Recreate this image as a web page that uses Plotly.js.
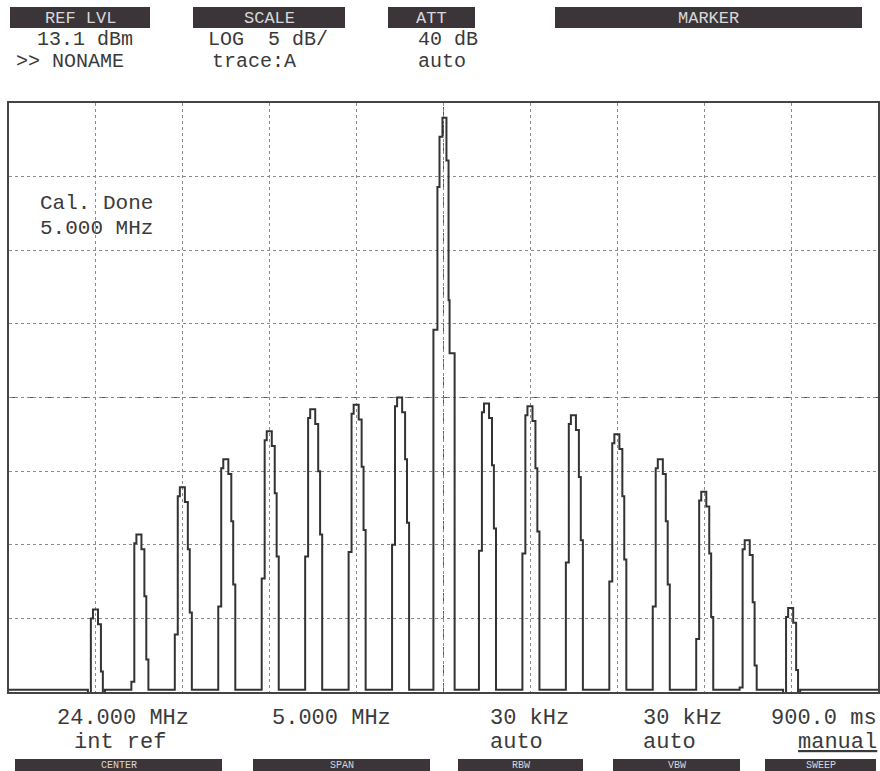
<!DOCTYPE html>
<html>
<head>
<meta charset="utf-8">
<script src="https://cdn.plot.ly/plotly-3.0.1.min.js"></script>
<style>
html,body{margin:0;padding:0;background:#fff;}
#chart{width:880px;height:771px;}
</style>
</head>
<body>
<div id="chart"></div>
<script>
// ---- Data ----
const centerMHz = 24.0;
const spanMHz = 5.0;
const refLevelDbm = 13.1;
const dbPerDiv = 5;
const peakFreqsMHz = [22.0, 22.25, 22.5, 22.75, 23.0, 23.25, 23.5, 23.75, 24.0,
                      24.25, 24.5, 24.75, 25.0, 25.25, 25.5, 25.75, 26.0];
const peakLevelsDbm = [-21.3, -16.2, -13.0, -11.1, -9.2, -7.7, -7.4, -6.9, 12.1,
                       -7.3, -7.5, -8.1, -9.4, -11.1, -13.3, -16.6, -21.2];
// stepped shape of each side line (offset kHz, level relative to peak dB)
const sideOffsetsKHz = [-46, -29, -17, 12, 29, 40, 52];
const sideRelDb      = [-10, -0.6, 0, -1, -4.2, -8.5, null];
// stepped shape of the carrier line
const carrierOffsetsKHz = [-58, -35, -23, -6, 17, 29, 35, 52, 64];
const carrierRelDb      = [-14.4, -4.7, -1.3, 0, -2.9, -12.4, -16.0, -16.0, null];
const floorDbm = -26.75;

// ---- Build the trace from the arrays ----
const xs = [centerMHz - spanMHz / 2];
const ys = [floorDbm];
peakFreqsMHz.forEach((f, i) => {
  const isCarrier = Math.abs(f - centerMHz) < 1e-9;
  const offs = isCarrier ? carrierOffsetsKHz : sideOffsetsKHz;
  const rel = isCarrier ? carrierRelDb : sideRelDb;
  offs.forEach((o, j) => {
    xs.push(f + o / 1000);
    ys.push(rel[j] === null ? floorDbm : peakLevelsDbm[i] + rel[j]);
  });
});
xs.push(centerMHz + spanMHz / 2);
ys.push(floorDbm);

const yBottom = refLevelDbm - 8 * dbPerDiv;

// ---- Layout helpers (pixel -> paper) ----
const L = 9, R = 2, T = 103, B = 79, W = 880, H = 771;
const PW = W - L - R, PH = H - T - B;
const px = v => (v - L) / PW;
const py = v => (H - B - v) / PH;

const mono = 'Liberation Mono, DejaVu Sans Mono, monospace';
const textColor = '#3a3a3a';

function lbl(text, x, y, size, anchor) {
  return {text: text, xref: 'paper', yref: 'paper', x: px(x), y: py(y),
          xanchor: anchor || 'left', yanchor: 'middle', showarrow: false,
          font: {family: mono, size: size || 22, color: textColor}};
}
function bar(x0, x1, y0, y1) {
  return {type: 'rect', xref: 'paper', yref: 'paper', x0: px(x0), x1: px(x1),
          y0: py(y1), y1: py(y0), fillcolor: '#3b3539', line: {width: 0}, layer: 'above'};
}
function barText(text, x0, x1, yc, size) {
  return {text: text, xref: 'paper', yref: 'paper', x: px((x0 + x1) / 2), y: py(yc),
          xanchor: 'center', yanchor: 'middle', showarrow: false,
          font: {family: mono, size: size || 17, color: '#d8d8d8'}};
}

const shapes = [
  // center graticule lines (dashed)
  {type: 'line', xref: 'x', yref: 'paper', x0: centerMHz, x1: centerMHz, y0: 0, y1: 1,
   line: {color: '#555', width: 1, dash: 'dash'}, layer: 'below'},
  {type: 'line', xref: 'paper', yref: 'y', x0: 0, x1: 1,
   y0: yBottom + 4 * dbPerDiv, y1: yBottom + 4 * dbPerDiv,
   line: {color: '#555', width: 1, dash: 'dash'}, layer: 'below'},
  // header soft-key bars
  bar(10, 150, 7, 28), bar(193, 345, 7, 28), bar(388, 475, 7, 28), bar(555, 862, 7, 28),
  // footer soft-key bars
  bar(15, 222, 759, 771), bar(253, 430, 759, 771), bar(458, 583, 759, 771),
  bar(613, 740, 759, 771), bar(765, 876, 759, 771)
];

const annotations = [
  barText('REF LVL', 10, 150, 18), barText('SCALE', 193, 345, 18),
  barText('ATT', 388, 475, 18), barText('MARKER', 555, 862, 18),
  barText('CENTER', 15, 222, 765.5, 10), barText('SPAN', 253, 430, 765.5, 10),
  barText('RBW', 458, 583, 765.5, 10), barText('VBW', 613, 740, 765.5, 10),
  barText('SWEEP', 765, 876, 765.5, 10),
  lbl('13.1 dBm', 35, 39, 20), lbl('>> NONAME', 14, 62, 20),
  lbl('LOG  5 dB/', 206, 39, 20), lbl('trace:A', 210, 62, 20),
  lbl('40 dB', 416, 39, 20), lbl('auto', 416, 62, 20),
  lbl('Cal. Done', 38, 203, 21), lbl('5.000 MHz', 38, 228, 21),
  lbl('24.000 MHz', 55, 718), lbl('int ref', 72, 742),
  lbl('5.000 MHz', 270, 718),
  lbl('30 kHz', 488, 718), lbl('auto', 488, 742),
  lbl('30 kHz', 641, 718), lbl('auto', 641, 742),
  lbl('900.0 ms', 879, 718, 22, 'right'), lbl('<u>manual</u>', 879, 742, 22, 'right')
];

const trace = {
  x: xs, y: ys, type: 'scatter', mode: 'lines',
  line: {shape: 'hv', color: '#333', width: 2},
  hoverinfo: 'skip'
};

const layout = {
  width: W, height: H,
  margin: {l: L, r: R, t: T, b: B, pad: 0},
  paper_bgcolor: '#fff', plot_bgcolor: '#fff',
  showlegend: false,
  xaxis: {range: [centerMHz - spanMHz / 2, centerMHz + spanMHz / 2], dtick: spanMHz / 10,
          tick0: centerMHz, showticklabels: false, ticks: '', zeroline: false,
          showgrid: true, gridcolor: '#8a8a8a', griddash: 'dot', gridwidth: 1,
          showline: true, mirror: true, linecolor: '#444', linewidth: 2},
  yaxis: {range: [yBottom, refLevelDbm], dtick: dbPerDiv, tick0: yBottom,
          showticklabels: false, ticks: '', zeroline: false,
          showgrid: true, gridcolor: '#8a8a8a', griddash: 'dot', gridwidth: 1,
          showline: true, mirror: true, linecolor: '#444', linewidth: 2},
  shapes: shapes,
  annotations: annotations
};

Plotly.newPlot('chart', [trace], layout, {displayModeBar: false, staticPlot: true});
</script>
</body>
</html>
